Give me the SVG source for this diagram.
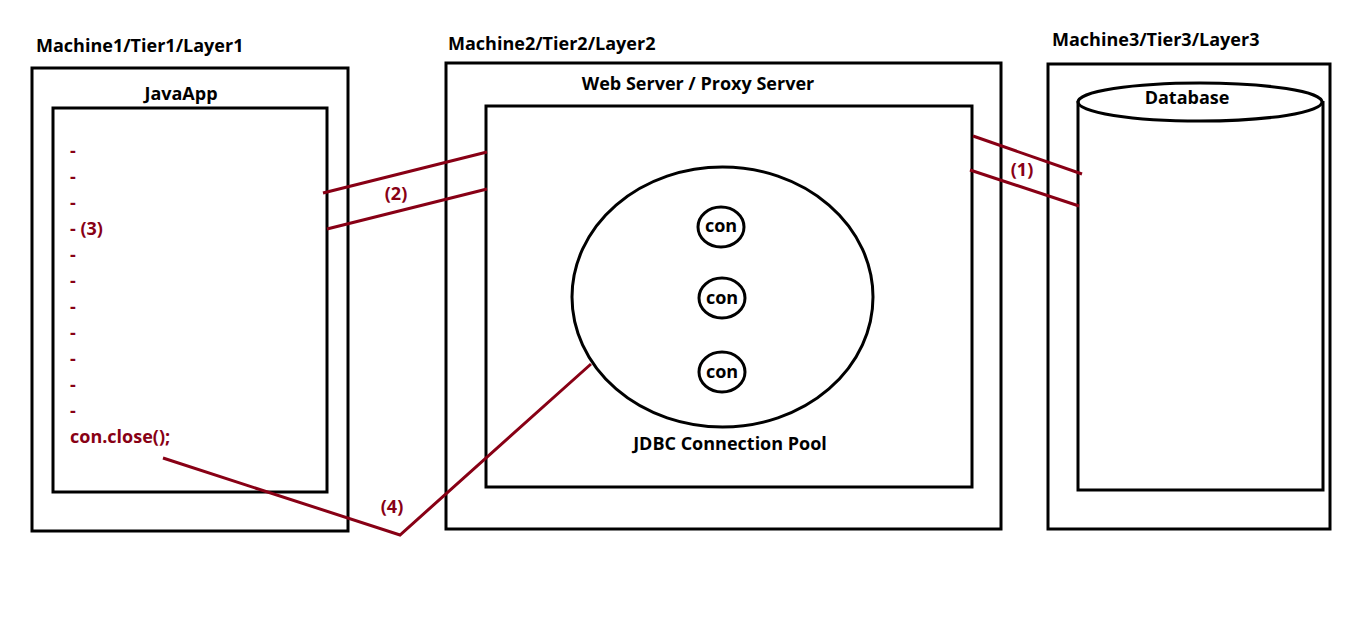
<svg xmlns="http://www.w3.org/2000/svg" width="1360" height="618" viewBox="0 0 1360 618">
<style>
.box{fill:none;stroke:#000;stroke-width:3}
.t{font-family:"Open Sans","Noto Sans",sans-serif;font-weight:bold;font-size:18px;fill:#000}
.r{font-family:"Open Sans","Noto Sans",sans-serif;font-weight:bold;font-size:18px;fill:#880015}
.c{fill:none;stroke:#880015;stroke-width:3}
</style>
<rect width="1360" height="618" fill="#fff"/>
<g id="machine1">
<text class="t" x="36" y="52">Machine1/Tier1/Layer1</text>
<rect class="box" x="32" y="68" width="316" height="463"/>
</g>
<g id="javaapp">
<text class="t" x="181" y="100" text-anchor="middle">JavaApp</text>
<rect class="box" x="53" y="108" width="274" height="384"/>
<text class="r" x="70" y="157">-</text>
<text class="r" x="70" y="183">-</text>
<text class="r" x="70" y="209">-</text>
<text class="r" x="70" y="235">- (3)</text>
<text class="r" x="70" y="261">-</text>
<text class="r" x="70" y="287">-</text>
<text class="r" x="70" y="313">-</text>
<text class="r" x="70" y="339">-</text>
<text class="r" x="70" y="365">-</text>
<text class="r" x="70" y="391">-</text>
<text class="r" x="70" y="417">-</text>
<text class="r" x="70" y="443">con.close();</text>
</g>
<g id="machine2">
<text class="t" x="448" y="50">Machine2/Tier2/Layer2</text>
<rect class="box" x="446" y="63" width="555" height="466"/>
</g>
<g id="webserver">
<text class="t" x="698" y="90" text-anchor="middle">Web Server / Proxy Server</text>
<rect class="box" x="486" y="106" width="486" height="381"/>
</g>
<g id="pool">
<ellipse class="box" cx="722.5" cy="297" rx="150.5" ry="130"/>
<text class="t" x="730" y="450" text-anchor="middle">JDBC Connection Pool</text>
</g>
<g id="con1">
<ellipse class="box" cx="721" cy="227" rx="23" ry="20"/>
<text class="t" x="721" y="232" text-anchor="middle">con</text>
</g>
<g id="con2">
<ellipse class="box" cx="722" cy="298" rx="23" ry="20"/>
<text class="t" x="722" y="304" text-anchor="middle">con</text>
</g>
<g id="con3">
<ellipse class="box" cx="722" cy="372" rx="23" ry="20"/>
<text class="t" x="722" y="378" text-anchor="middle">con</text>
</g>
<g id="machine3">
<text class="t" x="1052" y="46">Machine3/Tier3/Layer3</text>
<rect class="box" x="1048" y="64" width="282" height="465"/>
</g>
<g id="database">
<path class="box" d="M1078,101 V490 H1323 V101"/>
<ellipse class="box" cx="1200" cy="102" rx="122" ry="19" fill="#fff"/>
<text class="t" x="1187" y="104" text-anchor="middle">Database</text>
</g>
<g id="connectors">
<line class="c" x1="323" y1="193" x2="487" y2="152"/>
<line class="c" x1="327" y1="229" x2="487" y2="189"/>
<text class="r" x="396" y="200" text-anchor="middle">(2)</text>
<line class="c" x1="973" y1="136" x2="1082" y2="174"/>
<line class="c" x1="970" y1="170" x2="1079" y2="206"/>
<text class="r" x="1022" y="176" text-anchor="middle">(1)</text>
<polyline class="c" points="163,458 400,535 591,364"/>
<text class="r" x="392" y="513" text-anchor="middle">(4)</text>
</g>
</svg>
